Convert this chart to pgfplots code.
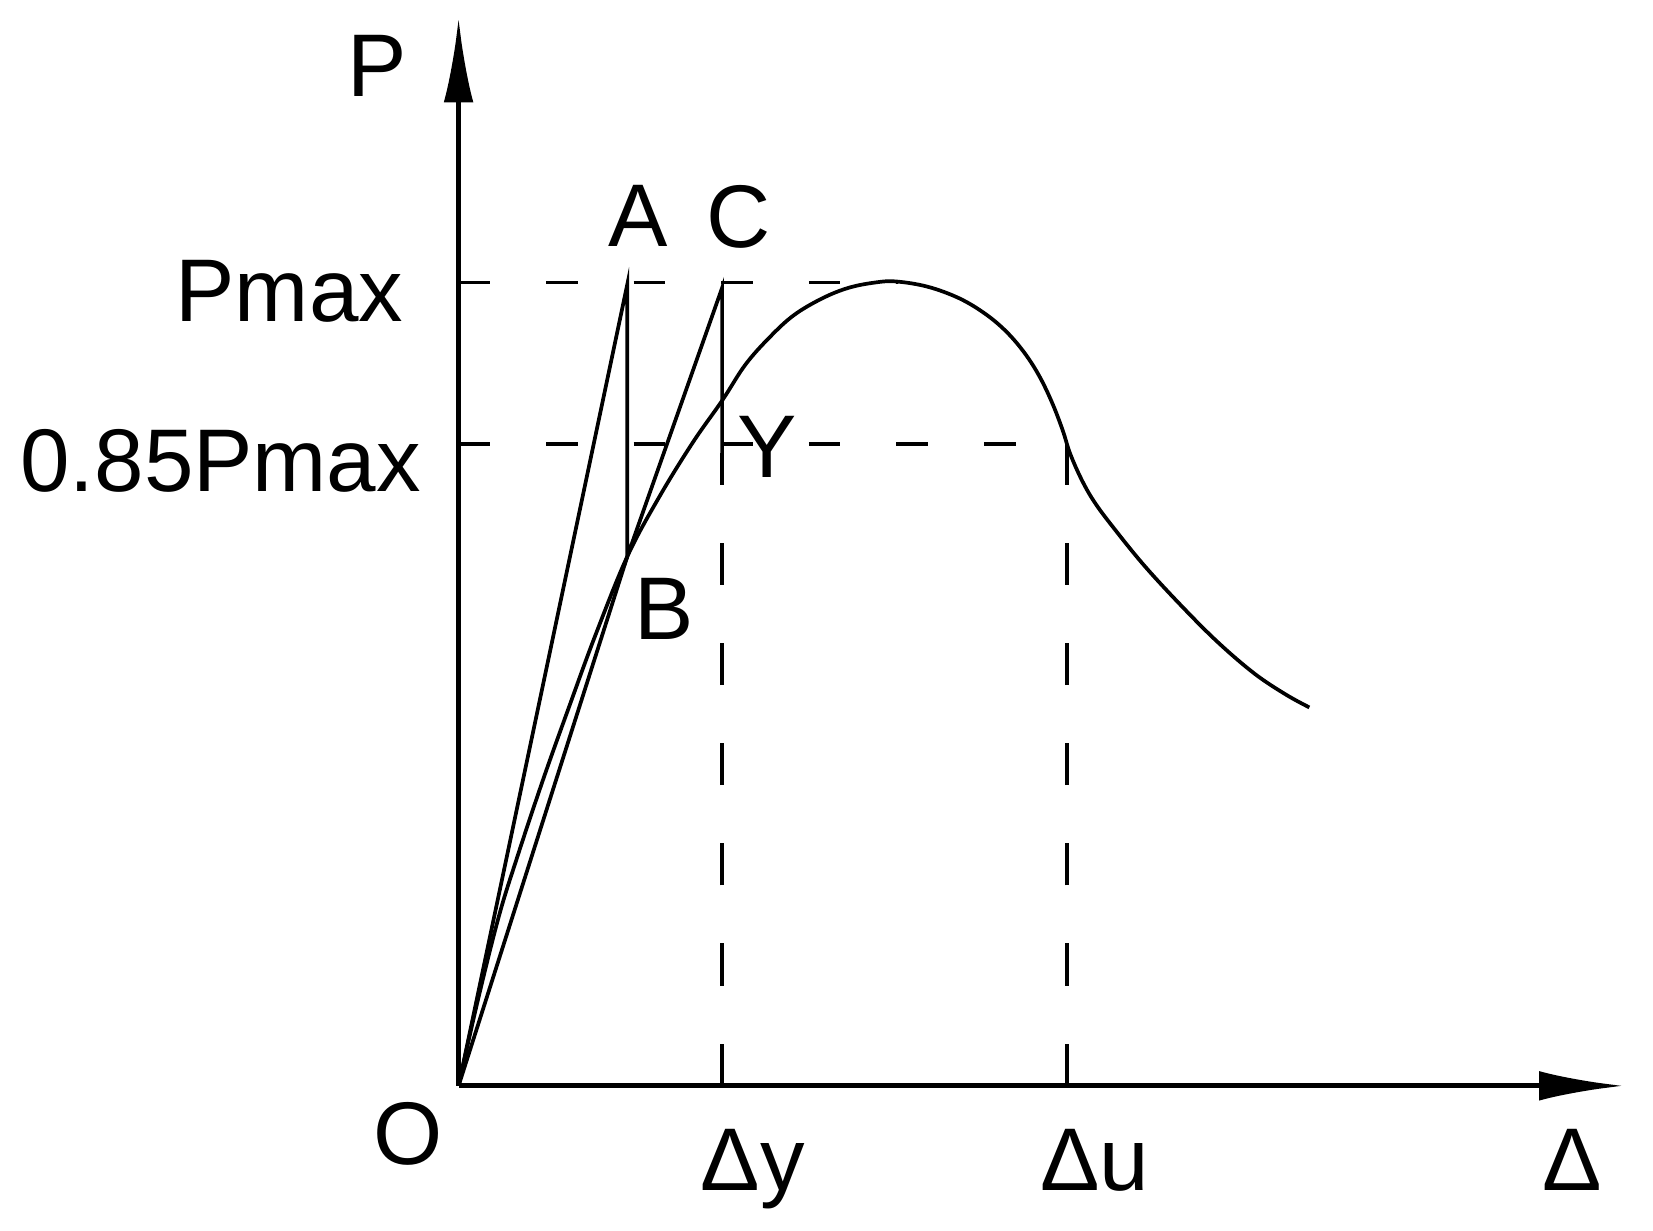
\documentclass[border=0pt]{standalone}
\usepackage{fontspec}
\setmainfont{Liberation Sans}
\usepackage{pgfplots}
\pgfplotsset{compat=1.18}
\usetikzlibrary{arrows.meta}

\begin{document}
\begin{tikzpicture}[lab/.style={font=\fontsize{24}{28}\selectfont, inner sep=0pt}]
\begin{axis}[
    x=0.01cm, y=0.01cm,
    xmin=0, xmax=1105, ymin=0, ymax=1013,
    axis lines=left,
    axis line style={line width=1.4pt, -{Latex[length=8mm,width=2.8mm]}},
    xtick=\empty, ytick=\empty,
    clip=false,
    thin line/.style={black, line width=1pt, no markers},
    hdash/.style={thin line, dash pattern=on 0.3cm off 0.53cm},
    vdash/.style={thin line, dash pattern=on 0.4cm off 0.55cm},
]
% load-displacement curve
\addplot[thin line, smooth, tension=0.6] coordinates {
    (0,0) (18,80) (38,160) (55,215) (80,290) (105,360) (130,428) (160,502)
    (190,558) (222,610) (250,650) (272,684) (295,710) (318,731) (345,747)
    (370,757) (395,762) (415,763) (445,758) (475,747) (500,732) (520,715)
    (537,695) (551,673) (563,648) (573,622) (580,600) (591,575) (603,554)
    (620,531) (650,494) (685,456) (720,421) (755,391) (785,371) (807,359)
};
% construction: O-A, A-B, B-C, C-Y
\addplot[thin line] coordinates {(0,0) (160,760) (160,502) (250,757) (250,600)};
\addplot[thin line] coordinates {(0,0) (160,502)};
% dashed guides
\addplot[hdash] coordinates {(0,762) (417,762)};
\addplot[hdash] coordinates {(0,609) (577,609)};
\addplot[vdash] coordinates {(250,0) (250,600)};
\addplot[vdash] coordinates {(577,0) (577,609)};

\node[lab, anchor=base east] at (axis cs:-48,938) {P};
\node[lab, anchor=base east] at (axis cs:-52,725) {Pmax};
\node[lab, anchor=base east] at (axis cs:-35,564) {0.85Pmax};
\node[lab, anchor=base] at (axis cs:-48,-75) {O};
\node[lab, anchor=base] at (axis cs:170,796) {A};
\node[lab, anchor=base] at (axis cs:266,795) {C};
\node[lab, anchor=base] at (axis cs:195,423) {B};
\node[lab, anchor=base] at (axis cs:293,577) {Y};
\node[lab, anchor=base west] at (axis cs:229,-99) {Δy};
\node[lab, anchor=base west] at (axis cs:551,-99) {Δu};
\node[lab, anchor=base west] at (axis cs:1027,-99) {Δ};

\coordinate (bbl) at (axis cs:-435,-137);
\coordinate (btr) at (axis cs:1133,1030);
\end{axis}
\pgfresetboundingbox
\path[use as bounding box] (bbl) rectangle (btr);
\end{tikzpicture}
\end{document}
